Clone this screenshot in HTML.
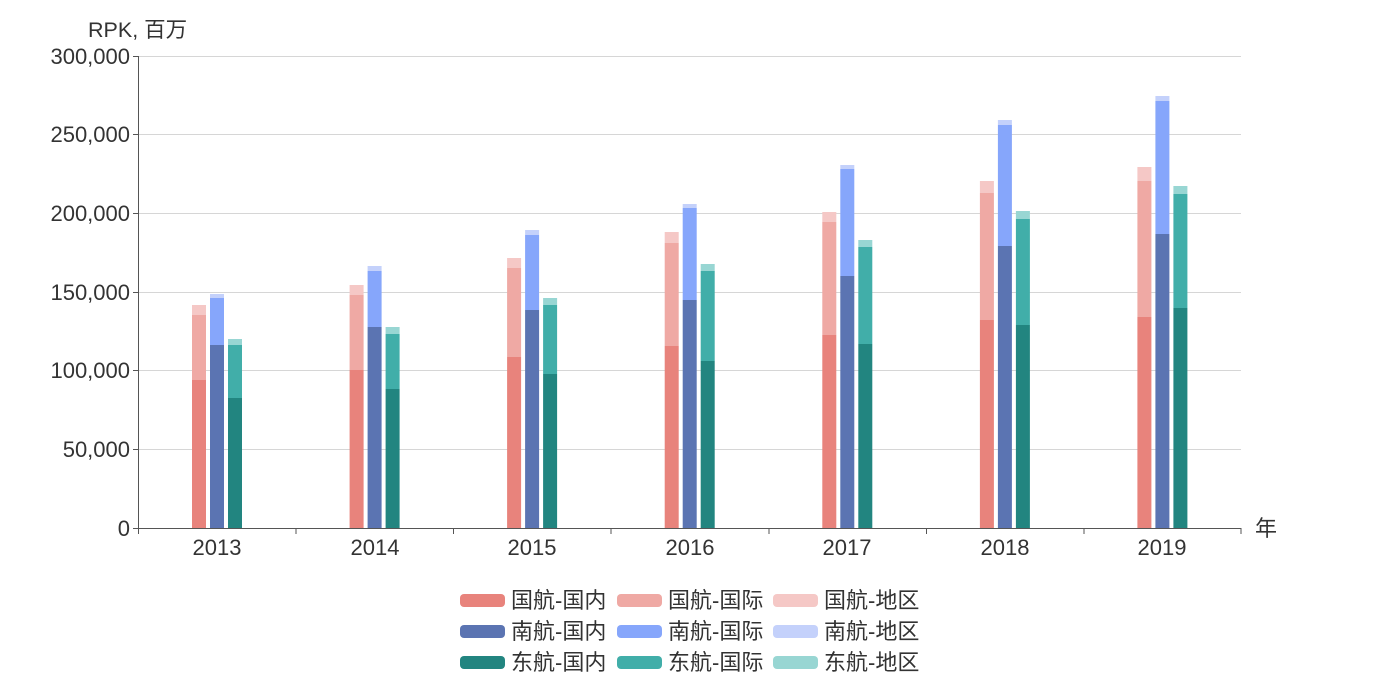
<!DOCTYPE html>
<html><head><meta charset="utf-8"><style>
body{margin:0;background:#fff;width:1380px;height:678px;overflow:hidden}
text{font-family:"Liberation Sans","Noto Sans CJK SC",sans-serif;fill:#333}
</style></head><body>
<svg width="1380" height="678" xmlns="http://www.w3.org/2000/svg">
<g stroke="#d6d6d6" stroke-width="1">
<line x1="138" x2="1241" y1="56.5" y2="56.5"/><line x1="138" x2="1241" y1="134.5" y2="134.5"/>
<line x1="138" x2="1241" y1="213.5" y2="213.5"/><line x1="138" x2="1241" y1="292.5" y2="292.5"/>
<line x1="138" x2="1241" y1="370.5" y2="370.5"/><line x1="138" x2="1241" y1="449.5" y2="449.5"/>
</g>
<g font-size="22" text-anchor="end">
<text x="130" y="64">300,000</text><text x="130" y="142">250,000</text><text x="130" y="221">200,000</text>
<text x="130" y="300">150,000</text><text x="130" y="378">100,000</text><text x="130" y="457">50,000</text><text x="130" y="536">0</text>
</g>
<text x="88" y="37" font-size="21.5">RPK, 百万</text>
<text x="1255" y="536" font-size="22">年</text>
<g stroke="#555" stroke-width="1">
<line x1="138.5" y1="56" x2="138.5" y2="528"/><line x1="133" y1="56.5" x2="138" y2="56.5"/><line x1="133" y1="134.5" x2="138" y2="134.5"/><line x1="133" y1="213.5" x2="138" y2="213.5"/><line x1="133" y1="292.5" x2="138" y2="292.5"/><line x1="133" y1="370.5" x2="138" y2="370.5"/><line x1="133" y1="449.5" x2="138" y2="449.5"/><line x1="133" y1="528.5" x2="138" y2="528.5"/>
<line x1="138" y1="528.5" x2="1241" y2="528.5"/>
<line x1="138.5" y1="528" x2="138.5" y2="534"/><line x1="296" y1="528" x2="296" y2="534"/><line x1="453.5" y1="528" x2="453.5" y2="534"/><line x1="611" y1="528" x2="611" y2="534"/><line x1="769" y1="528" x2="769" y2="534"/><line x1="926.5" y1="528" x2="926.5" y2="534"/><line x1="1084" y1="528" x2="1084" y2="534"/><line x1="1241" y1="528" x2="1241" y2="534"/>
</g>
<g font-size="22" text-anchor="middle">
<text x="217" y="555">2013</text><text x="375" y="555">2014</text><text x="532" y="555">2015</text><text x="690" y="555">2016</text><text x="847" y="555">2017</text><text x="1005" y="555">2018</text><text x="1162" y="555">2019</text>
</g>
<g>
<rect x="192" y="380" width="14" height="148" fill="#e8837c"/><rect x="192" y="315" width="14" height="65" fill="#efa9a4"/><rect x="192" y="305" width="14" height="10" fill="#f5c8c6"/>
<rect x="210" y="345" width="14" height="183" fill="#5b74b2"/><rect x="210" y="298" width="14" height="47" fill="#86a6fb"/><rect x="210" y="294" width="14" height="4" fill="#c4d1fb"/>
<rect x="228" y="398" width="14" height="130" fill="#228580"/><rect x="228" y="345" width="14" height="53" fill="#41aea9"/><rect x="228" y="339" width="14" height="6" fill="#98d6d3"/>
</g>
<g transform="translate(157.6,0)">
<rect x="192" y="370" width="14" height="158" fill="#e8837c"/><rect x="192" y="295" width="14" height="75" fill="#efa9a4"/><rect x="192" y="285" width="14" height="10" fill="#f5c8c6"/>
<rect x="210" y="327" width="14" height="201" fill="#5b74b2"/><rect x="210" y="271" width="14" height="56" fill="#86a6fb"/><rect x="210" y="266" width="14" height="5" fill="#c4d1fb"/>
<rect x="228" y="389" width="14" height="139" fill="#228580"/><rect x="228" y="334" width="14" height="55" fill="#41aea9"/><rect x="228" y="327" width="14" height="7" fill="#98d6d3"/>
</g>
<g transform="translate(315.1,0)">
<rect x="192" y="357" width="14" height="171" fill="#e8837c"/><rect x="192" y="268" width="14" height="89" fill="#efa9a4"/><rect x="192" y="258" width="14" height="10" fill="#f5c8c6"/>
<rect x="210" y="310" width="14" height="218" fill="#5b74b2"/><rect x="210" y="235" width="14" height="75" fill="#86a6fb"/><rect x="210" y="230" width="14" height="5" fill="#c4d1fb"/>
<rect x="228" y="374" width="14" height="154" fill="#228580"/><rect x="228" y="305" width="14" height="69" fill="#41aea9"/><rect x="228" y="298" width="14" height="7" fill="#98d6d3"/>
</g>
<g transform="translate(472.7,0)">
<rect x="192" y="346" width="14" height="182" fill="#e8837c"/><rect x="192" y="243" width="14" height="103" fill="#efa9a4"/><rect x="192" y="232" width="14" height="11" fill="#f5c8c6"/>
<rect x="210" y="300" width="14" height="228" fill="#5b74b2"/><rect x="210" y="208" width="14" height="92" fill="#86a6fb"/><rect x="210" y="204" width="14" height="4" fill="#c4d1fb"/>
<rect x="228" y="361" width="14" height="167" fill="#228580"/><rect x="228" y="271" width="14" height="90" fill="#41aea9"/><rect x="228" y="264" width="14" height="7" fill="#98d6d3"/>
</g>
<g transform="translate(630.3,0)">
<rect x="192" y="335" width="14" height="193" fill="#e8837c"/><rect x="192" y="222" width="14" height="113" fill="#efa9a4"/><rect x="192" y="212" width="14" height="10" fill="#f5c8c6"/>
<rect x="210" y="276" width="14" height="252" fill="#5b74b2"/><rect x="210" y="169" width="14" height="107" fill="#86a6fb"/><rect x="210" y="165" width="14" height="4" fill="#c4d1fb"/>
<rect x="228" y="344" width="14" height="184" fill="#228580"/><rect x="228" y="247" width="14" height="97" fill="#41aea9"/><rect x="228" y="240" width="14" height="7" fill="#98d6d3"/>
</g>
<g transform="translate(787.9,0)">
<rect x="192" y="320" width="14" height="208" fill="#e8837c"/><rect x="192" y="193" width="14" height="127" fill="#efa9a4"/><rect x="192" y="181" width="14" height="12" fill="#f5c8c6"/>
<rect x="210" y="246" width="14" height="282" fill="#5b74b2"/><rect x="210" y="125" width="14" height="121" fill="#86a6fb"/><rect x="210" y="120" width="14" height="5" fill="#c4d1fb"/>
<rect x="228" y="325" width="14" height="203" fill="#228580"/><rect x="228" y="219" width="14" height="106" fill="#41aea9"/><rect x="228" y="211" width="14" height="8" fill="#98d6d3"/>
</g>
<g transform="translate(945.4,0)">
<rect x="192" y="317" width="14" height="211" fill="#e8837c"/><rect x="192" y="181" width="14" height="136" fill="#efa9a4"/><rect x="192" y="167" width="14" height="14" fill="#f5c8c6"/>
<rect x="210" y="234" width="14" height="294" fill="#5b74b2"/><rect x="210" y="101" width="14" height="133" fill="#86a6fb"/><rect x="210" y="96" width="14" height="5" fill="#c4d1fb"/>
<rect x="228" y="308" width="14" height="220" fill="#228580"/><rect x="228" y="194" width="14" height="114" fill="#41aea9"/><rect x="228" y="186" width="14" height="8" fill="#98d6d3"/>
</g>
<g font-size="22">
<rect x="460" y="594" width="45" height="13" rx="4" fill="#e8837c"/><text x="511" y="608">国航-国内</text>
<rect x="617" y="594" width="45" height="13" rx="4" fill="#efa9a4"/><text x="668" y="608">国航-国际</text>
<rect x="773" y="594" width="45" height="13" rx="4" fill="#f5c8c6"/><text x="824" y="608">国航-地区</text>
<rect x="460" y="625" width="45" height="13" rx="4" fill="#5b74b2"/><text x="511" y="639">南航-国内</text>
<rect x="617" y="625" width="45" height="13" rx="4" fill="#86a6fb"/><text x="668" y="639">南航-国际</text>
<rect x="773" y="625" width="45" height="13" rx="4" fill="#c4d1fb"/><text x="824" y="639">南航-地区</text>
<rect x="460" y="656" width="45" height="13" rx="4" fill="#228580"/><text x="511" y="670">东航-国内</text>
<rect x="617" y="656" width="45" height="13" rx="4" fill="#41aea9"/><text x="668" y="670">东航-国际</text>
<rect x="773" y="656" width="45" height="13" rx="4" fill="#98d6d3"/><text x="824" y="670">东航-地区</text>
</g>
</svg>
</body></html>
